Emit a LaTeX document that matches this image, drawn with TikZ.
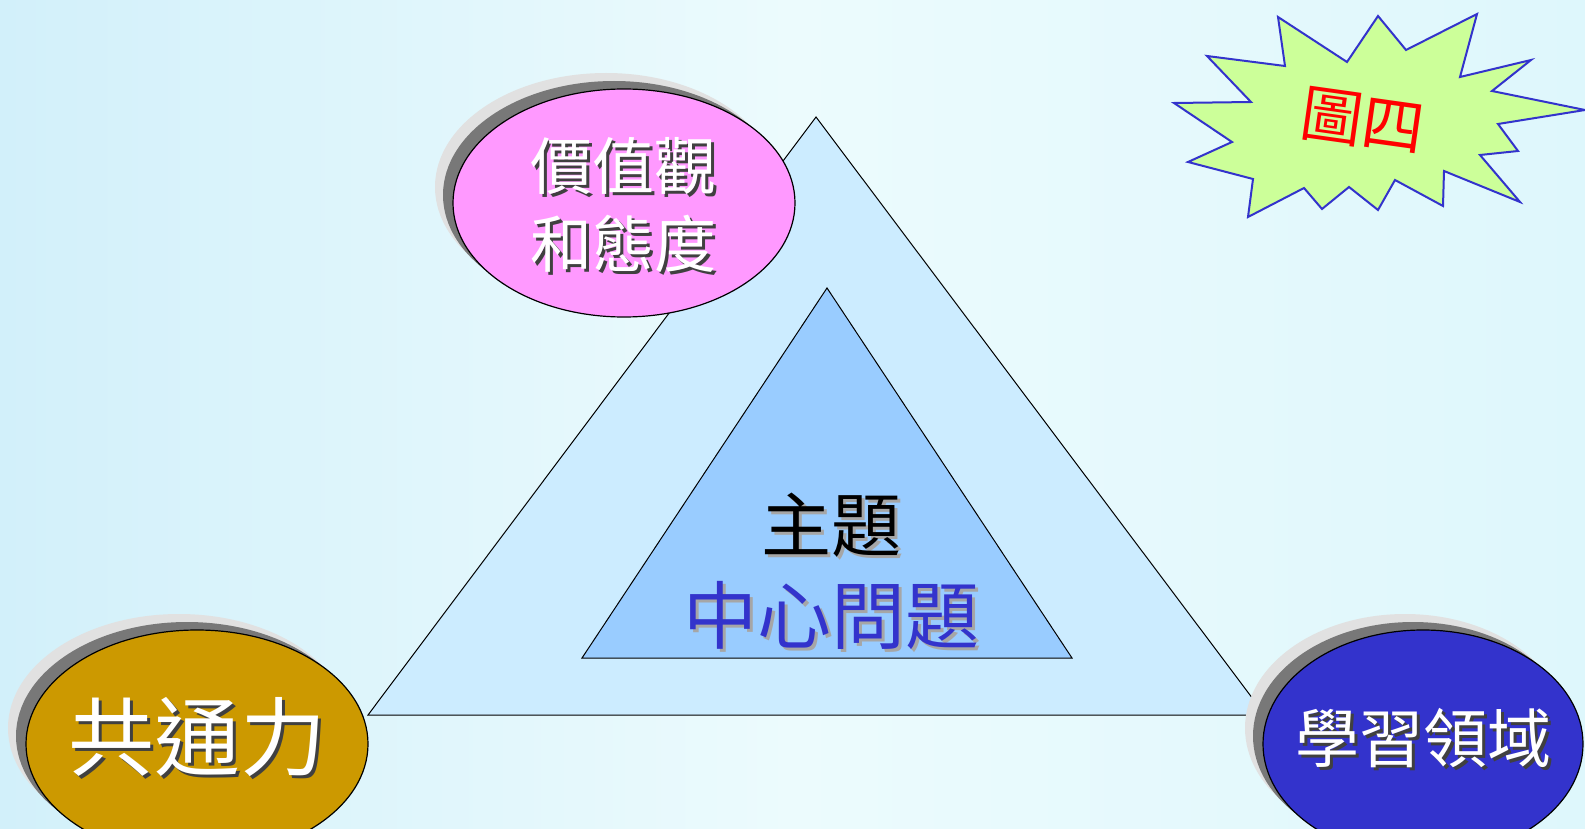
\documentclass[tikz,border=0pt]{standalone}
\usepackage{fontspec}
\newfontfamily\cjk{Noto Sans CJK TC}
\usetikzlibrary{shapes.geometric}
\definecolor{bgL}{RGB}{210,240,250}
\definecolor{bgM}{RGB}{236,251,253}
\definecolor{bgR}{RGB}{222,247,252}
\definecolor{outerfill}{RGB}{204,236,255}
\definecolor{innerfill}{RGB}{153,204,255}
\definecolor{pinkfill}{RGB}{255,153,255}
\definecolor{goldfill}{RGB}{204,153,0}
\definecolor{bluefill}{RGB}{51,51,204}
\definecolor{starfill}{RGB}{204,255,153}
\definecolor{shdark}{RGB}{120,120,120}
\definecolor{shlight}{RGB}{225,225,225}
\newcommand\shtxt[3]{\leavevmode\rlap{\hspace{3pt}\raisebox{-3pt}{\color{#2}#3}}{\color{#1}#3}}
\newcommand\zerobox[2]{\makebox[0pt]{\raisebox{#1}{#2}}}
\tikzset{
  bubble/.style={ellipse, draw=black, line width=1.2pt, inner sep=0pt, align=center},
  tri/.style={draw=black, line width=1pt},
}
\begin{document}
\begin{tikzpicture}[x=1pt,y=-1pt]
\useasboundingbox (0,0) rectangle (1585,829);
\shade[left color=bgL, right color=bgR, middle color=bgM] (0,0) rectangle (1585,829);
% triangles
\draw[tri, fill=outerfill] (816,117) -- (1265,715) -- (368,715) -- cycle;
\draw[tri, fill=innerfill] (827,288) -- (1072,658) -- (582,658) -- cycle;
\node[font=\cjk\fontsize{70}{74}\selectfont, inner sep=0pt] (zhuti) at (831,527) {\shtxt{black}{gray!70}{主題}};
\node[font=\cjk\fontsize{74}{78}\selectfont, inner sep=0pt] (wenti) at (831,617) {\shtxt{bluefill}{gray!70}{中心問題}};
% shadows of ellipses
\fill[shlight] (606,187) ellipse (171 and 114);
\fill[shdark] (614,195) ellipse (171 and 114);
\fill[shlight] (179,728) ellipse (171 and 114);
\fill[shdark] (187,736) ellipse (171 and 114);
\fill[shlight] (1405,728) ellipse (160 and 114);
\fill[shdark] (1413,736) ellipse (160 and 114);
% ellipses
\node[bubble, fill=pinkfill, minimum width=342, minimum height=228] (values) at (624,203) {};
\node[font=\cjk\fontsize{62}{78}\selectfont, align=center, inner sep=0pt] (valtext) at (623,206)
  {\shtxt{white}{black!75}{價值觀}\\\shtxt{white}{black!75}{和態度}};
\node[bubble, fill=goldfill, minimum width=342, minimum height=228, font=\cjk\fontsize{86}{90}\selectfont] (gentong) at (197,744)
  {\zerobox{22pt}{\shtxt{white}{black!75}{共通力}}};
\node[bubble, fill=bluefill, minimum width=320, minimum height=228, font=\cjk\fontsize{64}{68}\selectfont] (xuexi) at (1423,744)
  {\zerobox{17pt}{\shtxt{white}{black!75}{學習領域}}};
% star
\draw[draw=bluefill, line width=2pt, fill=starfill, line join=miter]
 (1278,17) -- (1285,66) -- (1207,56) -- (1251,102) -- (1174,103) -- (1232,142) -- (1188,162)
 -- (1253,179) -- (1248,217) -- (1304,188) -- (1322,209) -- (1349,187) -- (1378,210)
 -- (1395,180) -- (1443,206) -- (1444,171) -- (1520,202) -- (1480,155) -- (1518,151)
 -- (1498,124) -- (1585,110) -- (1492,91) -- (1531,60) -- (1460,77) -- (1477,14)
 -- (1406,50) -- (1378,16) -- (1347,62) -- cycle;
\node[font=\cjk\fontsize{62}{64}\selectfont, text=red, rotate=-8, inner sep=0pt] (tusi) at (1363,121) {圖四};
\end{tikzpicture}
\end{document}
